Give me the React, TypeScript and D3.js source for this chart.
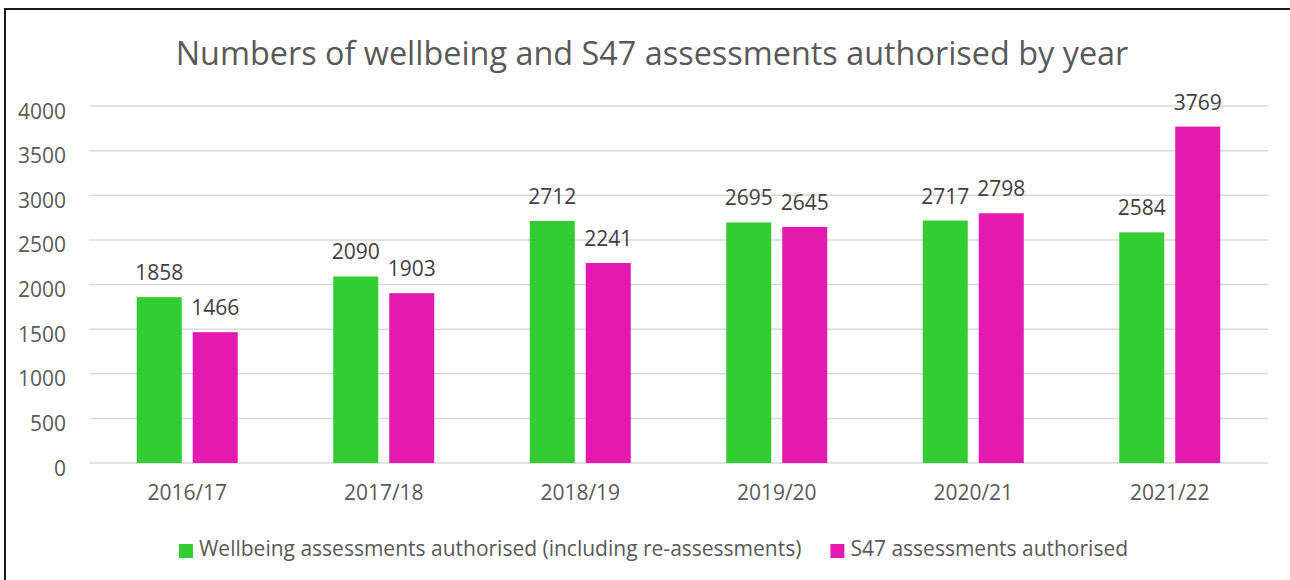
import React, { useEffect, useRef } from "react";
import * as d3 from "d3";

// Chart data
const years = ["2016/17", "2017/18", "2018/19", "2019/20", "2020/21", "2021/22"];
const wellbeing = [1858, 2090, 2712, 2695, 2717, 2584];
const s47 = [1466, 1903, 2241, 2645, 2798, 3769];
const seriesNames = [
  "Wellbeing assessments authorised (including re-assessments)",
  "S47 assessments authorised",
];
const yTicks = [0, 500, 1000, 1500, 2000, 2500, 3000, 3500, 4000];

const colors = ["#33CC33", "#E41AB0"];
const FONT = "'Open Sans', sans-serif";

const App = () => {
  const svgRef = useRef<SVGSVGElement>(null);

  useEffect(() => {
    const W = 1290;
    const H = 580;
    const margin = { top: 106, right: 22, bottom: 117, left: 89 };
    const width = W - margin.left - margin.right;
    const height = H - margin.top - margin.bottom;

    const root = d3.select(svgRef.current);
    root.selectAll("*").remove();

    // frame (only top and left edges are visible in the picture)
    root
      .append("rect")
      .attr("x", 5)
      .attr("y", 9)
      .attr("width", W + 20)
      .attr("height", H + 20)
      .attr("fill", "#fff")
      .attr("stroke", "#1a1a1a")
      .attr("stroke-width", 2);

    // title
    root
      .append("text")
      .attr("x", 652)
      .attr("y", 65)
      .attr("text-anchor", "middle")
      .attr("font-family", FONT)
      .attr("font-size", 32.4)
      .attr("fill", "#595959")
      .text("Numbers of wellbeing and S47 assessments authorised by year");

    const svg = root
      .append("g")
      .attr("transform", `translate(${margin.left},${margin.top})`);

    const x0 = d3
      .scaleBand()
      .domain(years)
      .range([0, width])
      .paddingInner(0.486)
      .paddingOuter(0.243);

    const x1 = d3
      .scaleBand()
      .domain(["0", "1"])
      .range([0, x0.bandwidth()])
      .paddingInner(0.196);

    const y = d3.scaleLinear().domain([0, 4000]).range([height, 0]);

    // gridlines
    svg
      .append("g")
      .selectAll("line")
      .data(yTicks)
      .join("line")
      .attr("x1", 0)
      .attr("x2", width)
      .attr("y1", (d) => y(d))
      .attr("y2", (d) => y(d))
      .attr("stroke", "#d9d9d9")
      .attr("stroke-width", 1.5);

    // y labels
    svg
      .append("g")
      .selectAll("text")
      .data(yTicks)
      .join("text")
      .attr("x", -23)
      .attr("y", (d) => y(d) + 12.5)
      .attr("text-anchor", "end")
      .attr("font-family", FONT)
      .attr("font-size", 21)
      .attr("fill", "#595959")
      .text((d) => d);

    // x labels
    svg
      .append("g")
      .selectAll("text")
      .data(years)
      .join("text")
      .attr("x", (d) => x0(d)! + x0.bandwidth() / 2)
      .attr("y", height + 37)
      .attr("text-anchor", "middle")
      .attr("font-family", FONT)
      .attr("font-size", 21)
      .attr("fill", "#595959")
      .text((d) => d);

    const rows = years.map((yr, i) => ({ yr, vals: [wellbeing[i], s47[i]] }));

    const groups = svg
      .append("g")
      .selectAll("g")
      .data(rows)
      .join("g")
      .attr("transform", (d) => `translate(${x0(d.yr)},0)`);

    const cells = groups
      .selectAll("g")
      .data((d) => d.vals.map((v, k) => ({ v, k })))
      .join("g");

    cells
      .append("rect")
      .attr("x", (d) => x1(String(d.k))!)
      .attr("width", x1.bandwidth())
      .attr("y", (d) => y(d.v))
      .attr("height", (d) => height - y(d.v))
      .attr("fill", (d) => colors[d.k]);

    cells
      .append("text")
      .attr("x", (d) => x1(String(d.k))! + x1.bandwidth() / 2)
      .attr("y", (d) => y(d.v) - 17)
      .attr("text-anchor", "middle")
      .attr("font-family", FONT)
      .attr("font-size", 21)
      .attr("fill", "#404040")
      .text((d) => d.v);

    // legend, centred under the plot
    const legend = root.append("g");
    const items = legend
      .selectAll("g")
      .data(seriesNames)
      .join("g");
    items
      .append("rect")
      .attr("width", 14)
      .attr("height", 14)
      .attr("y", 544)
      .attr("fill", (_, i) => colors[i]);
    const labels = items
      .append("text")
      .attr("x", 20)
      .attr("y", 556)
      .attr("font-family", FONT)
      .attr("font-size", 21)
      .attr("fill", "#595959")
      .text((d) => d);

    const widths = labels.nodes().map((n) => (n as SVGTextElement).getComputedTextLength());
    const gap = 29;
    const total = d3.sum(widths, (w) => 20 + w) + gap * (widths.length - 1);
    let cx = 653.5 - total / 2;
    items.attr("transform", (_, i) => {
      const t = `translate(${cx},0)`;
      cx += 20 + widths[i] + gap;
      return t;
    });
  }, []);

  return (
    <svg
      ref={svgRef}
      width={1290}
      height={580}
      style={{ position: "absolute", left: 0, top: 0, background: "#fff" }}
    ></svg>
  );
};

export default App;
